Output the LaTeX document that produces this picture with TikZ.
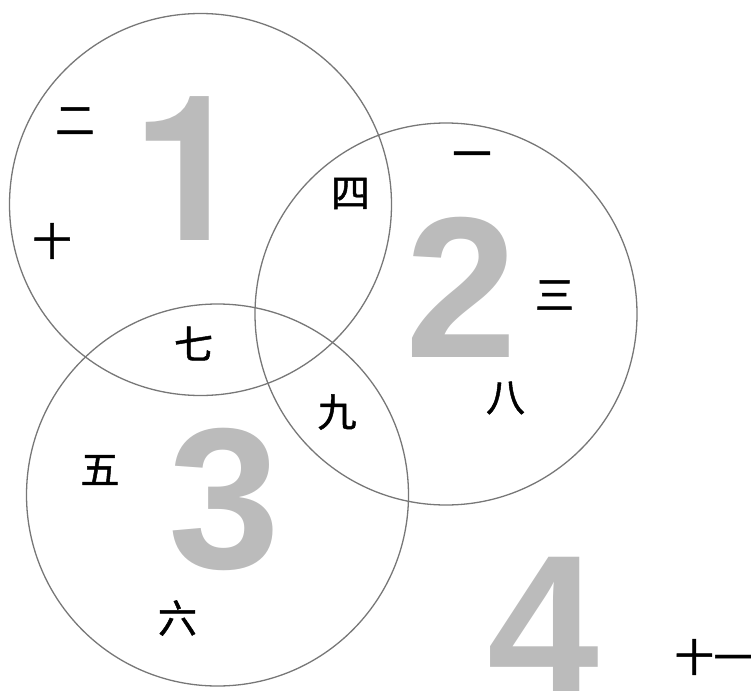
\documentclass[tikz,border=0pt]{standalone}
\usepackage{fontspec}
\setmainfont{Liberation Sans}
\newfontfamily\cjk{Noto Sans CJK SC}[FakeBold=1.2]
\newfontfamily\numfont{Liberation Sans}
\newfontfamily\onefont{TeX Gyre Heros}
\definecolor{numgray}{HTML}{BBBBBB}
\definecolor{ringgray}{HTML}{777777}
\tikzset{
  ring/.style={circle, draw=ringgray, line width=1.3pt, minimum size=382pt, inner sep=0pt},
  bignum/.style={font=\numfont\bfseries\fontsize{201}{201}\selectfont, text=numgray, anchor=base, inner sep=0pt},
  bigone/.style={bignum, font=\onefont\bfseries\fontsize{203}{203}\selectfont},
  hanzi/.style={font=\cjk\fontsize{39}{39}\selectfont, text=black, anchor=center, inner sep=0pt}
}
\begin{document}
\begin{tikzpicture}[x=1pt,y=-1pt]
\useasboundingbox (0,0) rectangle (751,690);
\node[ring] (c1) at (200.5,204.5) {};
\node[ring] (c2) at (446,314) {};
\node[ring] (c3) at (217.5,495) {};
\node[bigone] (n1) at (189,240) {1};
\node[bignum] (n2) at (461.5,357) {2};
\node[bignum] (n3) at (224,568) {3};
\node[bignum] (n4) at (543,695) {4};
\node[hanzi] (t2) at (75,121) {二};
\node[hanzi] (t10) at (52,241) {十};
\node[hanzi] (t4) at (350.5,193.5) {四};
\node[hanzi] (t1) at (472,160) {一};
\node[hanzi] (t3) at (554.5,295) {三};
\node[hanzi] (t8) at (505.5,398) {八};
\node[hanzi] (t7) at (193.5,343.5) {七};
\node[hanzi] (t9) at (337,412) {九};
\node[hanzi] (t5) at (100,470) {五};
\node[hanzi] (t6) at (177.5,618) {六};
\node[hanzi, anchor=west] (t11) at (674.5,657) {十一};
\end{tikzpicture}
\end{document}
